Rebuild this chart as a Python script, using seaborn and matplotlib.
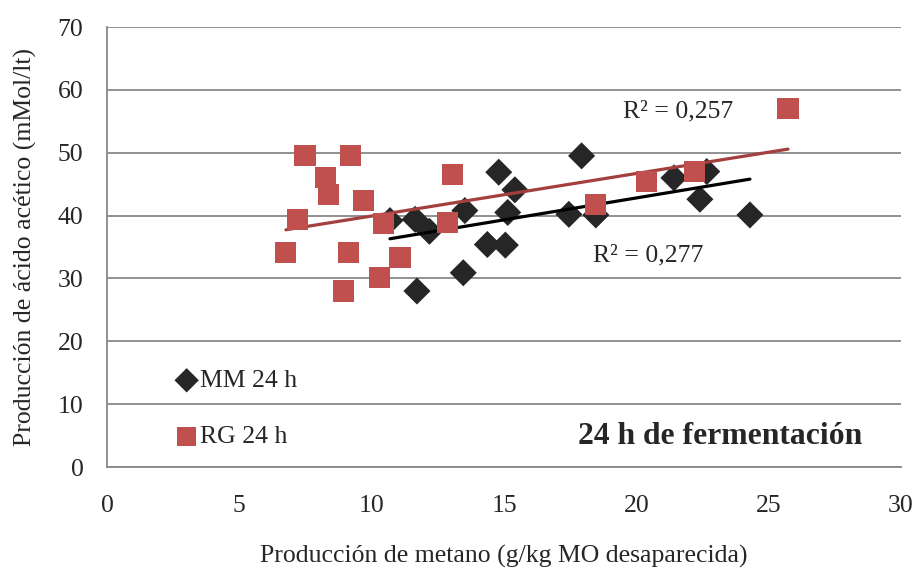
import matplotlib
matplotlib.use("Agg")
import matplotlib.pyplot as plt
import pandas as pd
import seaborn as sns

# MM 24 h (black diamonds)
mm_x = [10.69, 11.64, 12.18, 13.52, 14.80, 15.41, 15.14, 14.37, 15.05,
        13.46, 11.71, 17.93, 17.45, 18.47, 21.42, 22.66, 22.40, 24.29]
mm_y = [39.2, 39.4, 37.5, 40.8, 46.9, 44.1, 40.5, 35.4, 35.3,
        30.9, 28.0, 49.5, 40.2, 40.1, 46.0, 47.0, 42.6, 40.1]

# RG 24 h (red squares)
rg_x = [7.18, 7.48, 8.27, 8.36, 9.19, 9.68, 10.44, 6.76, 9.12,
        11.07, 10.31, 8.95, 13.06, 12.87, 18.47, 20.39, 22.19, 25.73]
rg_y = [39.4, 49.5, 46.0, 43.3, 49.5, 42.4, 38.8, 34.2, 34.1,
        33.4, 30.1, 28.0, 46.6, 38.9, 41.8, 45.4, 47.0, 57.1]

r2_labels = ["R² = 0,257", "R² = 0,277"]

df_mm = pd.DataFrame({"x": mm_x, "y": mm_y})
df_rg = pd.DataFrame({"x": rg_x, "y": rg_y})

sns.set_style("white")
plt.rcParams["font.family"] = ["Liberation Serif", "DejaVu Serif"]

fig = plt.figure(figsize=(9.17, 5.70), dpi=100)
ax = fig.add_axes([0.1167, 0.1807, 0.8659, 0.7719])

red = "#C0504D"
dark = "#262626"
fs = 18.5

# trend lines first so markers sit on top
sns.regplot(data=df_rg, x="x", y="y", scatter=False, ci=None, truncate=True,
            ax=ax, line_kws={"color": "#A3403D", "linewidth": 2.3, "zorder": 3})
sns.regplot(data=df_mm, x="x", y="y", scatter=False, ci=None, truncate=True,
            ax=ax, line_kws={"color": "black", "linewidth": 2.3, "zorder": 3})

sns.scatterplot(data=df_mm, x="x", y="y", marker="D", s=190, color=dark,
                edgecolor="none", ax=ax, label="MM 24 h", zorder=2)
sns.scatterplot(data=df_rg, x="x", y="y", marker="s", s=230, color=red,
                edgecolor="none", ax=ax, label="RG 24 h", zorder=4)

ax.set_xlim(0, 30)
ax.set_ylim(0, 70)
ax.set_xticks(range(0, 31, 5))
ax.set_yticks(range(0, 71, 10))
ax.yaxis.grid(True, color="#888888", linewidth=1.3)
ax.xaxis.grid(False)
ax.set_axisbelow(True)

for s in ["top", "right"]:
    ax.spines[s].set_visible(False)
for s in ["left", "bottom"]:
    ax.spines[s].set_color("#888888")
    ax.spines[s].set_linewidth(1.3)

ax.tick_params(axis="both", which="both", direction="out", length=7,
               width=1.3, color="#888888", labelsize=fs)
ax.tick_params(axis="x", pad=13)
ax.tick_params(axis="y", pad=10)

ax.set_xlabel("Producción de metano (g/kg MO desaparecida)", fontsize=fs, labelpad=20)
ax.set_ylabel("Producción de ácido acético (mMol/lt)", fontsize=fs, labelpad=15)

ax.text(21.57, 56.5, r2_labels[0], fontsize=fs, ha="center", va="center")
ax.text(20.44, 33.7, r2_labels[1], fontsize=fs, ha="center", va="center")
ax.text(23.16, 4.8, "24 h de fermentación", fontsize=22.8, fontweight="bold",
        ha="center", va="center")

ax.legend(loc="lower left", bbox_to_anchor=(0.055, 0.02), frameon=False,
          fontsize=fs, labelspacing=1.28, handletextpad=-0.5, markerscale=0.9,
          borderaxespad=0)

fig.savefig("out.png", dpi=100)
